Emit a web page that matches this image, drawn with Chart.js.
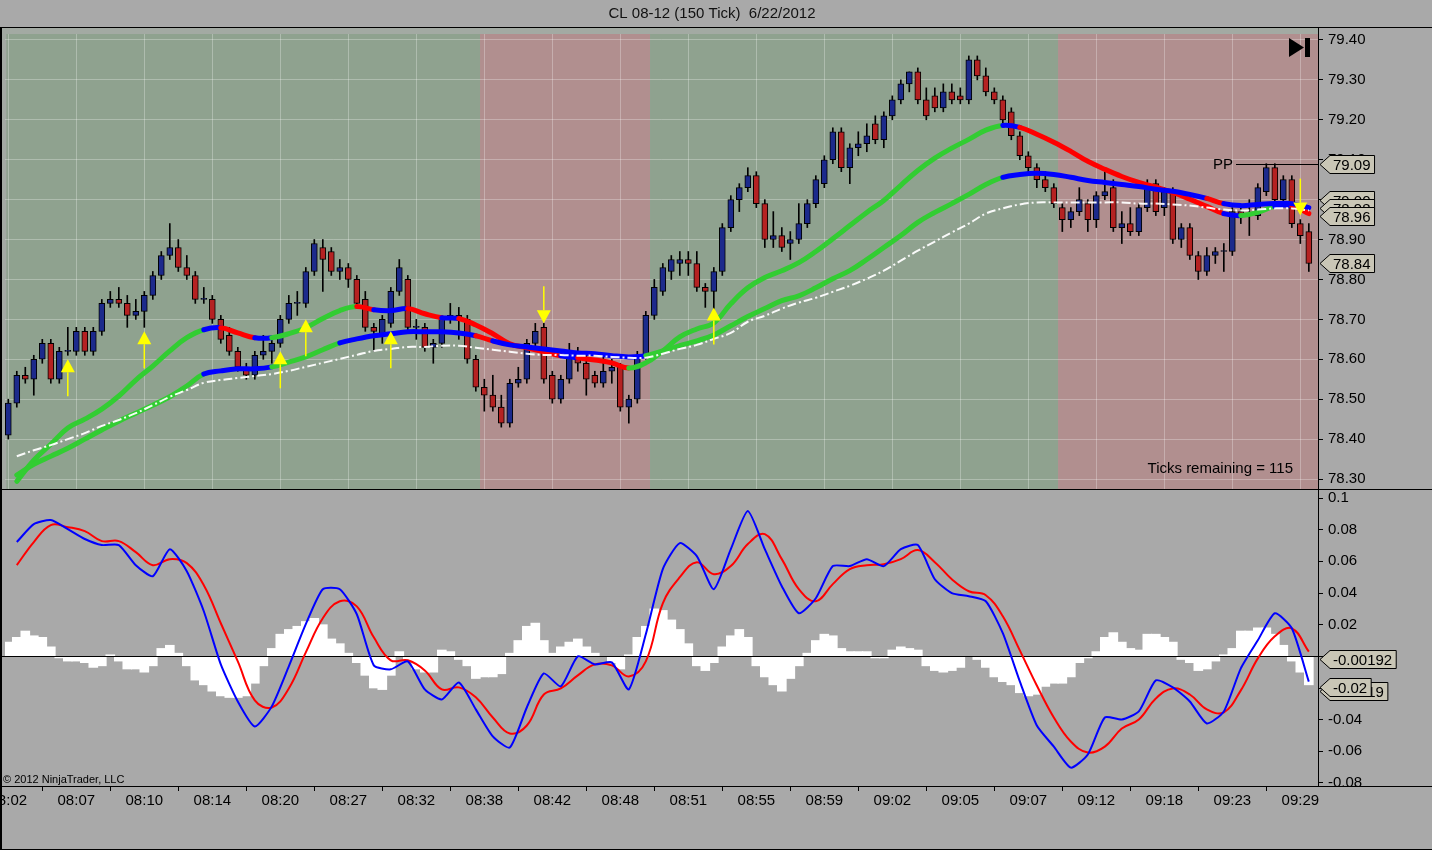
<!DOCTYPE html>
<html>
<head>
<meta charset="utf-8">
<title>CL 08-12 (150 Tick) 6/22/2012</title>
<script src="https://cdn.jsdelivr.net/npm/chart.js@4.4.1/dist/chart.umd.min.js"></script>
<style>
  html, body { margin: 0; padding: 0; background: #a9a9a9; }
  #wrap { width: 1432px; height: 850px; }
</style>
</head>
<body>
<div id="wrap"><canvas id="chart" width="1432" height="850"></canvas></div>
<script>
// ---- data ----
const chartTitle = 'CL 08-12 (150 Tick)  6/22/2012';
const timeLabels = ['08:02', '08:07', '08:10', '08:14', '08:20', '08:27', '08:32', '08:38', '08:42', '08:48',
    '08:51', '08:55', '08:59', '09:02', '09:05', '09:07', '09:12', '09:18', '09:23', '09:29'];
const barsPerLabel = 8;

const opens = [78.41, 78.49, 78.56, 78.55, 78.60, 78.64, 78.55, 78.62, 78.62, 78.67,
    78.62, 78.67, 78.74, 78.75, 78.74, 78.71, 78.72, 78.76, 78.81, 78.86,
    78.88, 78.83, 78.81, 78.75, 78.75, 78.70, 78.66, 78.62, 78.58, 78.56,
    78.61, 78.62, 78.64, 78.70, 78.74, 78.74, 78.82, 78.88, 78.87, 78.82,
    78.83, 78.80, 78.75, 78.68, 78.66, 78.69, 78.77, 78.80, 78.68, 78.68,
    78.63, 78.64, 78.70, 78.71, 78.70, 78.60, 78.53, 78.51, 78.48, 78.44,
    78.54, 78.55, 78.64, 78.68, 78.56, 78.50, 78.55, 78.60, 78.59, 78.56,
    78.54, 78.57, 78.58, 78.48, 78.50, 78.61, 78.71, 78.77, 78.82, 78.84,
    78.85, 78.84, 78.78, 78.77, 78.82, 78.93, 79.00, 79.03, 79.06, 78.99,
    78.90, 78.91, 78.89, 78.90, 78.94, 78.99, 79.04, 79.10, 79.17, 79.08,
    79.13, 79.14, 79.19, 79.15, 79.21, 79.25, 79.29, 79.32, 79.25, 79.26,
    79.23, 79.27, 79.26, 79.25, 79.35, 79.31, 79.27, 79.25, 79.22, 79.16,
    79.11, 79.08, 79.05, 79.03, 78.98, 78.95, 78.97, 78.99, 78.95, 79.01,
    79.03, 78.93, 78.94, 78.92, 78.98, 79.04, 78.98, 79.02, 78.90, 78.93,
    78.86, 78.82, 78.86, 78.87, 78.87, 78.97, 78.96, 78.96, 79.02, 79.08,
    79.00, 79.05, 78.94, 78.92];
const highs = [78.50, 78.57, 78.58, 78.61, 78.65, 78.65, 78.63, 78.68, 78.68, 78.68,
    78.68, 78.75, 78.77, 78.78, 78.76, 78.75, 78.77, 78.82, 78.87, 78.94,
    78.90, 78.86, 78.82, 78.78, 78.76, 78.71, 78.68, 78.63, 78.59, 78.62,
    78.66, 78.65, 78.71, 78.76, 78.77, 78.83, 78.90, 78.90, 78.88, 78.85,
    78.84, 78.81, 78.77, 78.69, 78.71, 78.78, 78.85, 78.81, 78.70, 78.69,
    78.65, 78.71, 78.74, 78.73, 78.71, 78.61, 78.55, 78.56, 78.51, 78.55,
    78.58, 78.65, 78.69, 78.69, 78.57, 78.56, 78.64, 78.63, 78.61, 78.57,
    78.61, 78.60, 78.59, 78.51, 78.62, 78.72, 78.80, 78.84, 78.86, 78.87,
    78.87, 78.87, 78.79, 78.83, 78.94, 79.01, 79.04, 79.08, 79.07, 79.00,
    78.97, 78.93, 78.92, 78.99, 79.00, 79.06, 79.11, 79.18, 79.18, 79.14,
    79.17, 79.19, 79.21, 79.22, 79.26, 79.30, 79.32, 79.33, 79.28, 79.28,
    79.29, 79.29, 79.28, 79.36, 79.36, 79.33, 79.28, 79.26, 79.23, 79.17,
    79.12, 79.09, 79.07, 79.04, 78.99, 78.98, 79.03, 79.00, 79.02, 79.07,
    79.05, 78.97, 78.98, 78.99, 79.05, 79.05, 79.03, 79.03, 78.94, 78.94,
    78.87, 78.88, 78.88, 78.89, 78.98, 78.98, 79.00, 79.04, 79.09, 79.09,
    79.06, 79.06, 78.95, 78.94];
const lows = [78.40, 78.48, 78.54, 78.51, 78.59, 78.54, 78.54, 78.61, 78.61, 78.61,
    78.61, 78.66, 78.73, 78.73, 78.68, 78.70, 78.68, 78.75, 78.80, 78.85,
    78.82, 78.80, 78.74, 78.74, 78.69, 78.64, 78.61, 78.57, 78.55, 78.55,
    78.60, 78.59, 78.63, 78.69, 78.71, 78.73, 78.81, 78.77, 78.81, 78.80,
    78.78, 78.73, 78.67, 78.62, 78.64, 78.68, 78.76, 78.67, 78.65, 78.62,
    78.59, 78.63, 78.69, 78.65, 78.59, 78.52, 78.47, 78.47, 78.43, 78.43,
    78.53, 78.54, 78.63, 78.54, 78.49, 78.49, 78.54, 78.57, 78.51, 78.53,
    78.53, 78.54, 78.47, 78.44, 78.49, 78.60, 78.70, 78.76, 78.80, 78.81,
    78.81, 78.77, 78.73, 78.72, 78.81, 78.92, 78.97, 79.02, 78.98, 78.88,
    78.88, 78.87, 78.85, 78.89, 78.93, 78.98, 79.03, 79.09, 79.07, 79.04,
    79.11, 79.12, 79.14, 79.13, 79.20, 79.24, 79.27, 79.24, 79.20, 79.22,
    79.22, 79.24, 79.24, 79.24, 79.30, 79.26, 79.24, 79.19, 79.15, 79.10,
    79.06, 79.03, 79.02, 78.98, 78.92, 78.93, 78.96, 78.92, 78.93, 79.00,
    78.92, 78.89, 78.91, 78.91, 78.97, 78.96, 78.96, 78.89, 78.88, 78.85,
    78.80, 78.81, 78.84, 78.82, 78.86, 78.94, 78.91, 78.95, 79.01, 78.99,
    78.99, 78.93, 78.89, 78.82];
const closes = [78.49, 78.56, 78.55, 78.60, 78.64, 78.55, 78.62, 78.62, 78.67, 78.62,
    78.67, 78.74, 78.75, 78.74, 78.71, 78.72, 78.76, 78.81, 78.86, 78.88,
    78.83, 78.81, 78.75, 78.75, 78.70, 78.65, 78.62, 78.58, 78.56, 78.61,
    78.62, 78.64, 78.70, 78.74, 78.74, 78.82, 78.89, 78.85, 78.82, 78.83,
    78.80, 78.74, 78.68, 78.67, 78.70, 78.77, 78.83, 78.68, 78.68, 78.63,
    78.64, 78.70, 78.71, 78.70, 78.60, 78.53, 78.51, 78.48, 78.44, 78.54,
    78.55, 78.64, 78.67, 78.55, 78.50, 78.55, 78.61, 78.59, 78.55, 78.54,
    78.57, 78.58, 78.48, 78.50, 78.61, 78.71, 78.78, 78.83, 78.85, 78.85,
    78.84, 78.78, 78.77, 78.82, 78.93, 79.00, 79.03, 79.06, 78.99, 78.90,
    78.91, 78.88, 78.90, 78.94, 78.99, 79.05, 79.10, 79.17, 79.08, 79.13,
    79.14, 79.16, 79.15, 79.21, 79.25, 79.29, 79.32, 79.25, 79.21, 79.23,
    79.27, 79.25, 79.25, 79.35, 79.31, 79.27, 79.25, 79.20, 79.16, 79.11,
    79.08, 79.05, 79.03, 78.99, 78.95, 78.97, 79.00, 78.95, 79.01, 79.02,
    78.93, 78.94, 78.92, 78.98, 79.04, 78.97, 79.02, 78.90, 78.93, 78.86,
    78.82, 78.86, 78.87, 78.87, 78.97, 78.96, 78.96, 79.03, 79.08, 79.00,
    79.05, 78.94, 78.91, 78.84];

// moving averages, read at every second bar (bars 1, 3, 5, ... 153)
const maFast = [78.294, 78.347, 78.387, 78.428, 78.450, 78.475, 78.508, 78.548, 78.583, 78.621,
    78.654, 78.674, 78.679, 78.666, 78.654, 78.654, 78.664, 78.679, 78.702, 78.722,
    78.732, 78.724, 78.722, 78.727, 78.714, 78.704, 78.702, 78.686, 78.664, 78.639,
    78.629, 78.619, 78.609, 78.604, 78.598, 78.591, 78.578, 78.591, 78.621, 78.656,
    78.676, 78.691, 78.739, 78.779, 78.805, 78.822, 78.842, 78.870, 78.902, 78.935,
    78.968, 78.998, 79.036, 79.073, 79.104, 79.129, 79.151, 79.174, 79.186, 79.181,
    79.164, 79.144, 79.121, 79.096, 79.076, 79.058, 79.043, 79.031, 79.018, 79.001,
    78.983, 78.965, 78.960, 78.968, 78.983, 78.985, 78.965];
const maSlow = [78.310, 78.337, 78.357, 78.377, 78.400, 78.423, 78.445, 78.465, 78.485, 78.506,
    78.533, 78.563, 78.571, 78.576, 78.576, 78.581, 78.593, 78.606, 78.624, 78.641,
    78.651, 78.659, 78.664, 78.669, 78.669, 78.669, 78.666, 78.659, 78.646, 78.636,
    78.631, 78.626, 78.621, 78.616, 78.614, 78.609, 78.606, 78.609, 78.621, 78.634,
    78.646, 78.661, 78.684, 78.707, 78.727, 78.747, 78.759, 78.779, 78.802, 78.822,
    78.850, 78.880, 78.910, 78.943, 78.968, 78.990, 79.013, 79.038, 79.056, 79.063,
    79.066, 79.063, 79.056, 79.048, 79.043, 79.038, 79.033, 79.026, 79.021, 79.013,
    79.003, 78.990, 78.985, 78.988, 78.990, 78.990, 78.980];
const maLong = [78.357, 78.372, 78.385, 78.400, 78.415, 78.433, 78.448, 78.465, 78.485, 78.506,
    78.523, 78.541, 78.548, 78.553, 78.558, 78.563, 78.571, 78.581, 78.591, 78.601,
    78.611, 78.621, 78.626, 78.631, 78.631, 78.634, 78.634, 78.629, 78.624, 78.619,
    78.614, 78.611, 78.611, 78.609, 78.609, 78.606, 78.604, 78.604, 78.614, 78.626,
    78.636, 78.651, 78.666, 78.694, 78.709, 78.727, 78.742, 78.754, 78.769, 78.784,
    78.802, 78.822, 78.847, 78.872, 78.895, 78.918, 78.940, 78.965, 78.978, 78.988,
    78.993, 78.993, 78.993, 78.993, 78.993, 78.993, 78.990, 78.990, 78.988, 78.985,
    78.980, 78.975, 78.973, 78.975, 78.978, 78.978, 78.973];

// lower panel: MACD line and its average (same bars as the MAs), diff per bar
const macd = [0.0722, 0.0835, 0.0861, 0.0804, 0.0741, 0.0703, 0.0703, 0.0576, 0.0506, 0.0677,
    0.0538, 0.0285, -0.0051, -0.0285, -0.0443, -0.0316, -0.0063, 0.0203, 0.0424, 0.0424,
    0.0266, -0.0057, -0.0082, -0.0032, -0.0209, -0.0272, -0.0165, -0.0335, -0.0506, -0.0576,
    -0.0323, -0.0108, -0.0190, 0.0000, -0.0051, -0.0038, -0.0209, 0.0139, 0.0551, 0.0715,
    0.0633, 0.0424, 0.0677, 0.0918, 0.0677, 0.0443, 0.0272, 0.0367, 0.0570, 0.0570,
    0.0614, 0.0570, 0.0677, 0.0703, 0.0487, 0.0399, 0.0380, 0.0348, 0.0146, -0.0158,
    -0.0437, -0.0570, -0.0703, -0.0620, -0.0386, -0.0399, -0.0348, -0.0152, -0.0196, -0.0285,
    -0.0424, -0.0348, -0.0076, 0.0101, 0.0272, 0.0177, -0.0160];
const macdAvg = [0.0576, 0.0722, 0.0829, 0.0816, 0.0791, 0.0728, 0.0728, 0.0658, 0.0576, 0.0614,
    0.0589, 0.0449, 0.0209, -0.0032, -0.0278, -0.0323, -0.0203, 0.0025, 0.0241, 0.0348,
    0.0316, 0.0120, -0.0025, -0.0025, -0.0089, -0.0209, -0.0196, -0.0259, -0.0386, -0.0487,
    -0.0437, -0.0241, -0.0203, -0.0120, -0.0051, -0.0057, -0.0127, -0.0032, 0.0335, 0.0500,
    0.0595, 0.0519, 0.0570, 0.0709, 0.0772, 0.0614, 0.0424, 0.0348, 0.0456, 0.0551,
    0.0576, 0.0582, 0.0614, 0.0671, 0.0595, 0.0487, 0.0411, 0.0386, 0.0253, 0.0038,
    -0.0184, -0.0386, -0.0538, -0.0608, -0.0570, -0.0456, -0.0399, -0.0266, -0.0203, -0.0241,
    -0.0335, -0.0354, -0.0215, -0.0013, 0.0127, 0.0177, 0.0030];
const macdDiff = [0.009, 0.012, 0.016, 0.013, 0.012, 0.006, -0.001, -0.003, -0.003, -0.004,
    -0.007, -0.006, 0.001, -0.003, -0.008, -0.008, -0.010, -0.006, 0.005, 0.007,
    0.002, -0.006, -0.015, -0.018, -0.022, -0.025, -0.026, -0.026, -0.025, -0.017,
    -0.006, 0.005, 0.014, 0.017, 0.019, 0.022, 0.024, 0.020, 0.011, 0.008,
    0.002, -0.004, -0.012, -0.020, -0.021, -0.012, 0.003, -0.003, -0.008, -0.010,
    -0.010, 0.004, 0.003, -0.002, -0.006, -0.014, -0.013, -0.013, -0.011, 0.002,
    0.010, 0.019, 0.021, 0.010, 0.002, 0.006, 0.009, 0.011, 0.006, 0.002,
    0.000, -0.004, -0.008, 0.001, 0.012, 0.019, 0.030, 0.029, 0.023, 0.017,
    0.008, -0.006, -0.009, -0.004, 0.006, 0.013, 0.017, 0.012, -0.006, -0.013,
    -0.018, -0.022, -0.014, -0.006, 0.002, 0.010, 0.014, 0.013, 0.005, 0.003,
    0.003, 0.003, -0.001, -0.001, 0.004, 0.006, 0.005, 0.004, -0.006, -0.009,
    -0.010, -0.009, -0.007, 0.000, -0.002, -0.007, -0.013, -0.016, -0.018, -0.023,
    -0.025, -0.024, -0.019, -0.017, -0.017, -0.013, -0.004, -0.001, 0.003, 0.012,
    0.015, 0.009, 0.005, 0.004, 0.014, 0.014, 0.012, 0.009, -0.002, -0.004,
    -0.009, -0.008, -0.003, 0.001, 0.005, 0.016, 0.016, 0.018, 0.018, 0.014,
    0.007, -0.003, -0.010, -0.018];

// trend background: first bar of each zone
const zoneStarts = [0, 56, 76, 124];
const zoneTrend = ['up', 'down', 'up', 'down'];

// signal arrows: bar and price of the arrow tip
const upArrowBars = [7, 16, 32, 35, 45, 83];
const upArrowPrices = [78.60, 78.67, 78.62, 78.70, 78.67, 78.73];
const downArrowBars = [63, 152];
const downArrowPrices = [78.69, 78.96];

const priceTicks = [78.3, 78.4, 78.5, 78.6, 78.7, 78.8, 78.9, 79.0, 79.1, 79.2, 79.3, 79.4];
const macdTicks = [-0.08, -0.06, -0.04, -0.02, 0, 0.02, 0.04, 0.06, 0.08, 0.1];

const pivotPP = 79.09;
const priceTagValues = [79.09, 79.00, 78.98, 78.96, 78.84];
const macdTagValues = [-0.0219, -0.0196, -0.00192];
const macdTagTexts = ['-0.0219', '-0.02', '-0.00192'];
const ticksRemaining = 115;

// ---- styling ----
const FONT = '"Liberation Sans", Arial, sans-serif';
const UP_BODY = '#1c2a8c';
const DOWN_BODY = '#b52222';
const GREEN = '#32cd32';
const RED = '#ff0000';
const BLUE = '#0000ff';

const lineBars = maFast.map((_, k) => 2 * k + 1);
const toPoints = (values) => values.map((v, k) => ({ x: lineBars[k], y: v }));

// colour each piece of a moving average by its direction
const trendColor = (flat) => (ctx) => {
    const d = ctx.p1.parsed.y - ctx.p0.parsed.y;
    if (d > flat) return GREEN;
    if (d < -flat) return RED;
    return BLUE;
};

const drawArrow = (ctx, px, py, dir) => {
    const half = 7, h = 13, stem = 24;
    ctx.fillStyle = '#ffff00';
    ctx.strokeStyle = '#ffff00';
    ctx.lineWidth = 1.5;
    ctx.beginPath();
    ctx.moveTo(px, py);
    ctx.lineTo(px - half, py + dir * h);
    ctx.lineTo(px + half, py + dir * h);
    ctx.closePath();
    ctx.fill();
    ctx.beginPath();
    ctx.moveTo(px, py + dir * h);
    ctx.lineTo(px, py + dir * (h + stem));
    ctx.stroke();
};

const drawTag = (ctx, x0, yc, text) => {
    ctx.font = '15px ' + FONT;
    const w = ctx.measureText(text).width + 7;
    const h = 18;
    yc = Math.round(yc) + 0.5;
    ctx.beginPath();
    ctx.moveTo(x0, yc);
    ctx.lineTo(x0 + 10, yc - h / 2);
    ctx.lineTo(x0 + 10 + w, yc - h / 2);
    ctx.lineTo(x0 + 10 + w, yc + h / 2);
    ctx.lineTo(x0 + 10, yc + h / 2);
    ctx.closePath();
    ctx.fillStyle = '#c9c6b6';
    ctx.fill();
    ctx.strokeStyle = '#000';
    ctx.lineWidth = 1;
    ctx.stroke();
    ctx.fillStyle = '#000';
    ctx.textAlign = 'left';
    ctx.textBaseline = 'middle';
    ctx.fillText(text, x0 + 13, yc + 1);
};

// panels, shading, grid, title
const panelPlugin = {
    id: 'panels',
    beforeDraw(chart) {
        const { ctx, chartArea: area, scales: { x, y } } = chart;
        ctx.save();
        ctx.fillStyle = '#a9a9a9';
        ctx.fillRect(0, 0, chart.width, chart.height);
        ctx.fillStyle = '#a3aaa3';
        ctx.fillRect(2, y.top, area.right - 2, y.bottom - y.top);

        const top = y.top + 6;
        zoneStarts.forEach((start, k) => {
            const next = zoneStarts[k + 1];
            const x0 = k === 0 ? x.getPixelForValue(start) - 2 : x.getPixelForValue(start - 0.5);
            const x1 = next === undefined ? area.right : x.getPixelForValue(next - 0.5);
            ctx.fillStyle = zoneTrend[k] === 'up' ? 'rgb(143,162,143)' : 'rgb(177,143,143)';
            ctx.fillRect(x0, top, x1 - x0, y.bottom - top);
        });

        ctx.strokeStyle = 'rgba(255,255,255,0.28)';
        ctx.lineWidth = 1;
        x.ticks.forEach((t) => {
            const px = Math.round(x.getPixelForValue(t.value)) + 0.5;
            ctx.beginPath();
            ctx.moveTo(px, top);
            ctx.lineTo(px, y.bottom);
            ctx.stroke();
        });

        ctx.fillStyle = '#111';
        ctx.font = '15px ' + FONT;
        ctx.textAlign = 'center';
        ctx.textBaseline = 'middle';
        ctx.fillText(chartTitle, 712, 14);
        ctx.restore();
    },
    afterDatasetDraw(chart, args) {
        // zero line over the histogram, under the MACD lines
        if (args.meta.label !== 'Diff') return;
        const { ctx, chartArea: area, scales: { y2 } } = chart;
        const py = Math.round(y2.getPixelForValue(0)) + 0.5;
        ctx.save();
        ctx.strokeStyle = '#000';
        ctx.lineWidth = 1.2;
        ctx.beginPath();
        ctx.moveTo(0, py);
        ctx.lineTo(area.right, py);
        ctx.stroke();
        ctx.restore();
    },
    afterDatasetsDraw(chart) {
        const { ctx, scales: { x, y } } = chart;
        ctx.save();
        upArrowBars.forEach((b, k) => drawArrow(ctx, x.getPixelForValue(b), y.getPixelForValue(upArrowPrices[k]), 1));
        downArrowBars.forEach((b, k) => drawArrow(ctx, x.getPixelForValue(b), y.getPixelForValue(downArrowPrices[k]), -1));
        ctx.restore();
    },
    afterDraw(chart) {
        const { ctx, chartArea: area, scales: { y, y2 } } = chart;
        ctx.save();
        ctx.strokeStyle = '#000';
        ctx.lineWidth = 1;
        const hline = (py) => {
            ctx.beginPath();
            ctx.moveTo(0, py);
            ctx.lineTo(chart.width, py);
            ctx.stroke();
        };
        hline(27.5);
        hline(Math.round(y.bottom) + 0.5);
        hline(Math.round(area.bottom) + 0.5);
        hline(chart.height - 0.5);
        ctx.lineWidth = 2;
        ctx.beginPath();
        ctx.moveTo(1, 27);
        ctx.lineTo(1, chart.height);
        ctx.stroke();

        // pivot line
        const ppY = Math.round(y.getPixelForValue(pivotPP)) + 0.5;
        ctx.lineWidth = 1;
        ctx.beginPath();
        ctx.moveTo(1236, ppY);
        ctx.lineTo(area.right, ppY);
        ctx.stroke();
        ctx.fillStyle = '#000';
        ctx.font = '15px ' + FONT;
        ctx.textAlign = 'right';
        ctx.textBaseline = 'middle';
        ctx.fillText('PP', 1233, ppY);

        // value tags on the axis
        priceTagValues.forEach((v) => drawTag(ctx, area.right + 2, y.getPixelForValue(v), v.toFixed(2)));
        macdTagValues.forEach((v, k) => drawTag(ctx, area.right + 2, y2.getPixelForValue(v), macdTagTexts[k]));

        ctx.fillStyle = '#000';
        ctx.font = '15px ' + FONT;
        ctx.textAlign = 'right';
        ctx.textBaseline = 'middle';
        ctx.fillText('Ticks remaining = ' + ticksRemaining, 1293, y.bottom - 20);

        ctx.font = '11px ' + FONT;
        ctx.textAlign = 'left';
        ctx.fillText('\u00a9 2012 NinjaTrader, LLC', 3, area.bottom - 6);

        // "go to last bar" button
        ctx.beginPath();
        ctx.moveTo(1289, 38);
        ctx.lineTo(1304, 47.5);
        ctx.lineTo(1289, 57);
        ctx.closePath();
        ctx.fill();
        ctx.fillRect(1305, 38, 5, 19);
        ctx.restore();
    }
};

const tickFont = { family: FONT, size: 15 };

new Chart(document.getElementById('chart'), {
    type: 'line',
    data: {
        datasets: [
            {
                label: 'MA long', data: toPoints(maLong), yAxisID: 'y', order: 0,
                borderColor: 'rgba(255,255,255,0.95)', borderWidth: 2, borderDash: [9, 3, 2, 3],
                pointRadius: 0, tension: 0.4,
            },
            {
                label: 'MA slow', data: toPoints(maSlow), yAxisID: 'y', order: 1,
                borderWidth: 5, borderCapStyle: 'round', pointRadius: 0, tension: 0.4,
                borderColor: BLUE, segment: { borderColor: trendColor(0.012) },
            },
            {
                label: 'MA fast', data: toPoints(maFast), yAxisID: 'y', order: 2,
                borderWidth: 5, borderCapStyle: 'round', pointRadius: 0, tension: 0.4,
                borderColor: GREEN, segment: { borderColor: trendColor(0.006) },
            },
            {
                type: 'bar', label: 'Bodies', yAxisID: 'y', order: 3,
                data: opens.map((o, i) => ({ x: i, y: [o, closes[i]] })),
                backgroundColor: opens.map((o, i) => (closes[i] >= o ? UP_BODY : DOWN_BODY)),
                borderColor: '#000', borderWidth: 1, borderSkipped: false,
                barThickness: 6, minBarLength: 1, grouped: false,
            },
            {
                type: 'bar', label: 'Wicks', yAxisID: 'y', order: 4,
                data: lows.map((l, i) => ({ x: i, y: [l, highs[i]] })),
                backgroundColor: '#000', barThickness: 1, grouped: false,
            },
            {
                label: 'MACD', data: toPoints(macd), yAxisID: 'y2', order: 0,
                borderColor: BLUE, borderWidth: 2, pointRadius: 0, tension: 0.2,
            },
            {
                label: 'Avg', data: toPoints(macdAvg), yAxisID: 'y2', order: 1,
                borderColor: RED, borderWidth: 2, pointRadius: 0, tension: 0.4,
            },
            {
                type: 'bar', label: 'Diff', yAxisID: 'y2', order: 5,
                data: macdDiff.map((v, i) => ({ x: i, y: v })),
                backgroundColor: '#ffffff', barThickness: 9, grouped: false,
            },
        ]
    },
    options: {
        responsive: false,
        animation: false,
        devicePixelRatio: 1,
        events: [],
        layout: { padding: { top: 28, left: 5, right: 0, bottom: 0 }, autoPadding: false },
        plugins: { legend: { display: false }, tooltip: { enabled: false }, title: { display: false } },
        scales: {
            x: {
                type: 'linear', position: 'bottom', min: -0.388, max: 154.08, offset: false,
                afterBuildTicks: (s) => { s.ticks = timeLabels.map((_, k) => ({ value: k * barsPerLabel })); },
                afterFit: (s) => { s.height = 64; s.paddingLeft = 0; s.paddingRight = 0; },
                ticks: {
                    autoSkip: false, maxRotation: 0, padding: 1, color: '#000', font: tickFont,
                    callback: (v) => timeLabels[Math.round(v / barsPerLabel)],
                },
                grid: { drawOnChartArea: false, drawTicks: true, tickLength: 5, tickColor: '#000' },
                border: { color: '#000' },
            },
            y: {
                type: 'linear', position: 'right', stack: 'panes', stackWeight: 461,
                min: 78.275, max: 79.43,
                afterBuildTicks: (s) => { s.ticks = priceTicks.map((v) => ({ value: v })); },
                afterFit: (s) => { s.width = 114; s.paddingTop = 0; s.paddingBottom = 0; },
                ticks: { autoSkip: false, padding: 5, color: '#000', font: tickFont, callback: (v) => Number(v).toFixed(2) },
                grid: { color: 'rgba(255,255,255,0.28)', tickColor: '#000', tickLength: 5 },
                border: { color: '#000' },
            },
            y2: {
                type: 'linear', position: 'right', stack: 'panes', stackWeight: 297,
                min: -0.0819, max: 0.1057,
                afterBuildTicks: (s) => { s.ticks = macdTicks.map((v) => ({ value: v })); },
                afterFit: (s) => { s.width = 114; s.paddingTop = 0; s.paddingBottom = 0; },
                ticks: { autoSkip: false, padding: 5, color: '#000', font: tickFont, callback: (v) => String(parseFloat(Number(v).toFixed(3))) },
                grid: { drawOnChartArea: false, tickColor: '#000', tickLength: 5 },
                border: { color: '#000' },
            },
        }
    },
    plugins: [panelPlugin]
});
</script>
</body>
</html>
